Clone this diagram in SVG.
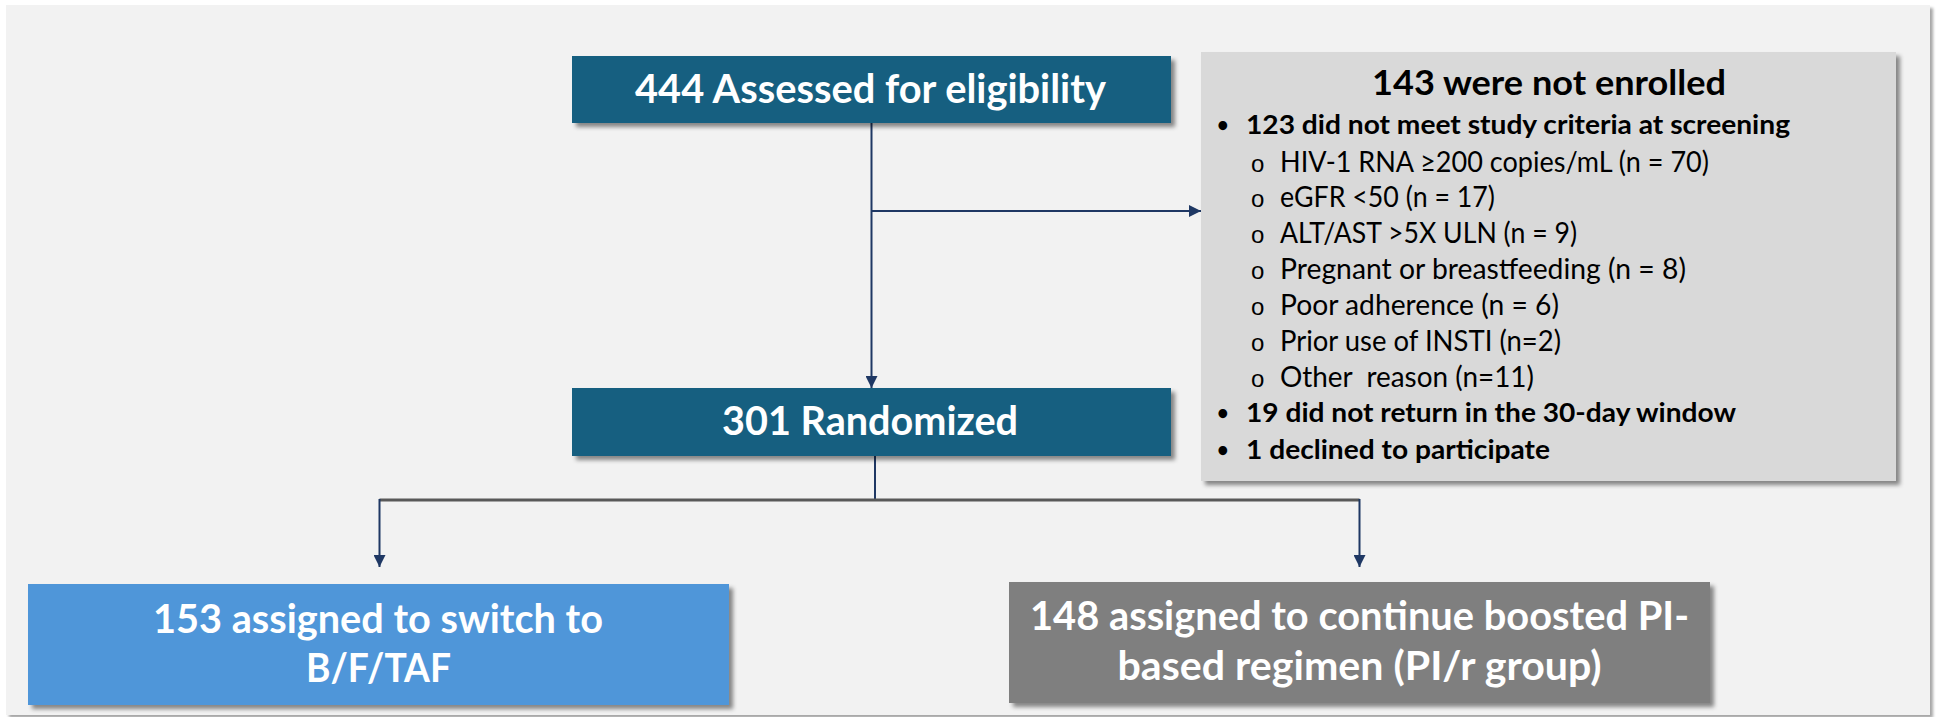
<svg xmlns="http://www.w3.org/2000/svg" width="1937" height="717" viewBox="0 0 1937 717">
  <defs>
    <filter id="shadow" x="-5%" y="-10%" width="115%" height="130%">
      <feDropShadow dx="4" dy="4" stdDeviation="2.2" flood-color="#000" flood-opacity="0.45"/>
    </filter>
    <filter id="panelShadow" x="-2%" y="-2%" width="104%" height="104%">
      <feDropShadow dx="3" dy="3" stdDeviation="1.5" flood-color="#000" flood-opacity="0.35"/>
    </filter>
    <marker id="arrow" viewBox="0 0 12 12" refX="12" refY="6" markerWidth="12" markerHeight="12" markerUnits="userSpaceOnUse" orient="auto">
      <path d="M0,0 L12,6 L0,12 Z" fill="#1f3864"/>
    </marker>
  </defs>
  <style>
    .lbl { font-family: Lato, "Open Sans", "Liberation Sans", sans-serif; }
    .big { font-size: 40px; font-weight: 700; fill: #ffffff; text-anchor: middle; }
    .title { font-size: 34px; font-weight: 700; fill: #000000; text-anchor: middle; }
    .b { font-size: 27px; font-weight: 700; fill: #000000; }
    .r { font-size: 28px; font-weight: 400; fill: #000000; }
    .dot { font-size: 20px; font-weight: 700; fill: #000000; }
    .ring { font-size: 24px; font-weight: 400; fill: #000000; font-family: "Liberation Sans", sans-serif; }
    .conn { fill: none; stroke: #1f3864; stroke-width: 2; }
    .split { fill: none; stroke: #595959; stroke-width: 3; }
  </style>

  <!-- page background -->
  <rect x="0" y="0" width="1937" height="717" fill="#ffffff"/>
  <rect x="6" y="5" width="1924" height="710" fill="#f2f2f2" filter="url(#panelShadow)"/>

  <!-- connectors -->
  <g id="connectors">
    <line class="conn" x1="871.5" y1="123" x2="871.5" y2="388" marker-end="url(#arrow)"/>
    <line class="conn" x1="871.5" y1="211" x2="1201" y2="211" marker-end="url(#arrow)"/>
    <line class="conn" x1="875" y1="456" x2="875" y2="500"/>
    <line class="split" x1="379.5" y1="500" x2="1359.5" y2="500"/>
    <line class="conn" x1="379.5" y1="499" x2="379.5" y2="567" marker-end="url(#arrow)"/>
    <line class="conn" x1="1359.5" y1="499" x2="1359.5" y2="567" marker-end="url(#arrow)"/>
  </g>

  <!-- screening -->
  <g id="assessed">
    <rect x="572" y="56" width="599" height="67" fill="#175f80" filter="url(#shadow)"/>
    <text class="lbl big" x="870.5" y="103" textLength="471" lengthAdjust="spacingAndGlyphs">444 Assessed for eligibility</text>
  </g>

  <!-- exclusions -->
  <g id="not-enrolled">
    <rect x="1201" y="52" width="695" height="429" fill="#d9d9d9" filter="url(#shadow)"/>
    <text class="lbl title" x="1549" y="95" textLength="354" lengthAdjust="spacingAndGlyphs">143 were not enrolled</text>
    <text class="lbl dot" x="1217" y="132">•</text>
    <text class="lbl b" x="1246" y="134" textLength="544" lengthAdjust="spacingAndGlyphs">123 did not meet study criteria at screening</text>
    <g class="lbl r">
      <text class="ring" x="1251" y="172">o</text>
      <text x="1280" y="172" textLength="429" lengthAdjust="spacingAndGlyphs">HIV-1 RNA ≥200 copies/mL (n = 70)</text>
      <text class="ring" x="1251" y="207">o</text>
      <text x="1280" y="207" textLength="215" lengthAdjust="spacingAndGlyphs">eGFR &lt;50 (n = 17)</text>
      <text class="ring" x="1251" y="243">o</text>
      <text x="1280" y="243" textLength="297" lengthAdjust="spacingAndGlyphs">ALT/AST &gt;5X ULN (n = 9)</text>
      <text class="ring" x="1251" y="279">o</text>
      <text x="1280" y="279" textLength="406" lengthAdjust="spacingAndGlyphs">Pregnant or breastfeeding (n = 8)</text>
      <text class="ring" x="1251" y="315">o</text>
      <text x="1280" y="315" textLength="279" lengthAdjust="spacingAndGlyphs">Poor adherence (n = 6)</text>
      <text class="ring" x="1251" y="351">o</text>
      <text x="1280" y="351" textLength="281" lengthAdjust="spacingAndGlyphs">Prior use of INSTI (n=2)</text>
      <text class="ring" x="1251" y="387">o</text>
      <text x="1280" y="387" textLength="254" lengthAdjust="spacingAndGlyphs" xml:space="preserve">Other  reason (n=11)</text>
    </g>
    <text class="lbl dot" x="1217" y="420">•</text>
    <text class="lbl b" x="1246" y="422" textLength="490" lengthAdjust="spacingAndGlyphs">19 did not return in the 30-day window</text>
    <text class="lbl dot" x="1217" y="457">•</text>
    <text class="lbl b" x="1246" y="459" textLength="304" lengthAdjust="spacingAndGlyphs">1 declined to participate</text>
  </g>

  <!-- randomization -->
  <g id="randomized">
    <rect x="572" y="388" width="599" height="68" fill="#175f80" filter="url(#shadow)"/>
    <text class="lbl big" x="870" y="435" textLength="296" lengthAdjust="spacingAndGlyphs">301 Randomized</text>
  </g>

  <!-- arms -->
  <g id="arm-bftaf">
    <rect x="28" y="584" width="701" height="121" fill="#4f96d9" filter="url(#shadow)"/>
    <text class="lbl big" x="378" y="633" textLength="450" lengthAdjust="spacingAndGlyphs">153 assigned to switch to</text>
    <text class="lbl big" x="378.5" y="682" textLength="145" lengthAdjust="spacingAndGlyphs">B/F/TAF</text>
  </g>
  <g id="arm-pir">
    <rect x="1009" y="582" width="701" height="121" fill="#7f7f7f" filter="url(#shadow)"/>
    <text class="lbl big" x="1359.5" y="630" textLength="659" lengthAdjust="spacingAndGlyphs">148 assigned to continue boosted PI-</text>
    <text class="lbl big" x="1359.5" y="680" textLength="484" lengthAdjust="spacingAndGlyphs">based regimen (PI/r group)</text>
  </g>
</svg>
